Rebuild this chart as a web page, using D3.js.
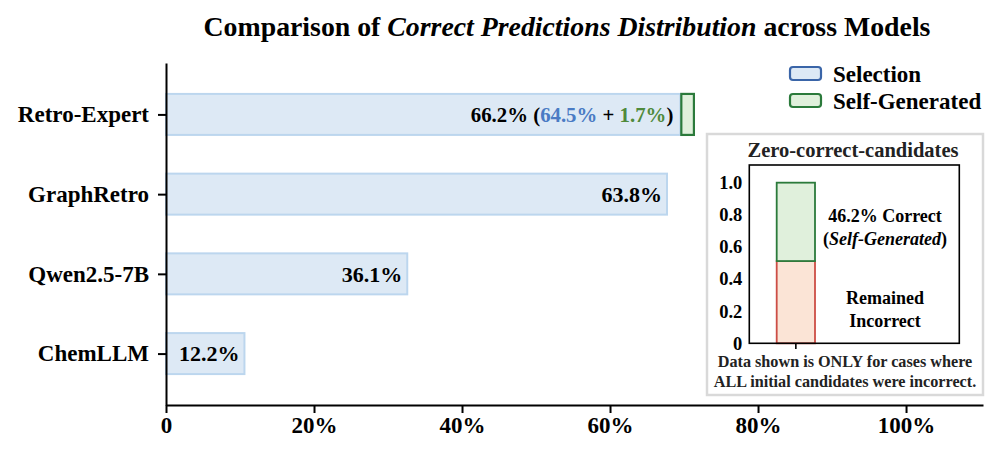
<!DOCTYPE html>
<html><head><meta charset="utf-8">
<script src="https://cdn.jsdelivr.net/npm/d3@7"></script>
<style>
html,body{margin:0;padding:0;background:#fff;}
svg{display:block;font-family:"Liberation Serif","Times New Roman",serif;font-weight:bold;}
</style></head>
<body>
<svg id="chart" width="997" height="456"></svg>
<script>
// ---- data ----
const models = ["Retro-Expert", "GraphRetro", "Qwen2.5-7B", "ChemLLM"];
const selectionValues = [69.5, 67.7, 32.6, 10.6];      // bar lengths as drawn (%)
const selfGenValues = [1.7, 0, 0, 0];                 // self-generated extension (%)
const barLabels = ["66.2%", "63.8%", "36.1%", "12.2%"];
const retroBreakdown = ["64.5%", "1.7%"];
const xTicks = [0, 20, 40, 60, 80, 100];
const xTickLabels = ["0", "20%", "40%", "60%", "80%", "100%"];
const insetSegments = ["Remained Incorrect", "Correct (Self-Generated)"];
const insetValues = [0.512, 0.488];
const insetTicks = [0, 0.2, 0.4, 0.6, 0.8, 1.0];
const insetTickLabels = ["0", "0.2", "0.4", "0.6", "0.8", "1.0"];

const svg = d3.select("#chart");
const FONT = "Liberation Serif, Times New Roman, serif";
const C = {
  selFill: "#dde9f5", selStroke: "#bcd6ee", selLegendStroke: "#3a65a8",
  genFill: "#e0f0dc", genStroke: "#2b7a3b",
  incFill: "#fbe4d6", incStroke: "#cc4d45",
  blue: "#4a7bc4", green: "#4f8a3c"
};

// title
const title = svg.append("text").attr("x", 567).attr("y", 36).attr("text-anchor", "middle")
  .attr("font-size", 27.8).attr("fill", "#000");
title.append("tspan").text("Comparison of ");
title.append("tspan").attr("font-style", "italic").text("Correct Predictions Distribution");
title.append("tspan").text(" across Models");

// scales
const x = d3.scaleLinear().domain([0, 110.4]).range([166, 983]);
const y = d3.scalePoint().domain(models).range([63, 405]).padding(0.645);
const barH = 41;

// bars
svg.append("g").selectAll("rect").data(models).join("rect")
  .attr("x", x(0)).attr("y", d => y(d) - barH / 2)
  .attr("width", (d, i) => x(selectionValues[i]) - x(0)).attr("height", barH)
  .attr("fill", C.selFill).attr("stroke", C.selStroke).attr("stroke-width", 2);

svg.append("g").selectAll("rect").data(models.filter((d, i) => selfGenValues[i] > 0)).join("rect")
  .attr("x", d => x(selectionValues[models.indexOf(d)]) + 1)
  .attr("y", d => y(d) - barH / 2)
  .attr("width", d => x(selfGenValues[models.indexOf(d)]) - x(0))
  .attr("height", barH)
  .attr("fill", C.genFill).attr("stroke", C.genStroke).attr("stroke-width", 2.2);

// bar labels
models.forEach((m, i) => {
  const t = svg.append("text").attr("x", x(selectionValues[i]) - (i === 0 ? 7 : 5))
    .attr("y", y(m)).attr("dy", "0.35em").attr("text-anchor", "end")
    .attr("font-size", i === 0 ? 20.8 : 22).attr("fill", "#000");
  if (i === 0) {
    t.append("tspan").text(barLabels[0] + " (");
    t.append("tspan").attr("fill", C.blue).text(retroBreakdown[0]);
    t.append("tspan").text(" + ");
    t.append("tspan").attr("fill", C.green).text(retroBreakdown[1]);
    t.append("tspan").text(")");
  } else {
    t.text(barLabels[i]);
  }
});

// axes
const xAxis = svg.append("g").attr("transform", "translate(0,405)")
  .call(d3.axisBottom(x).tickValues(xTicks).tickFormat((d, i) => xTickLabels[i]).tickSize(8).tickSizeOuter(0).tickPadding(4));
const yAxis = svg.append("g").attr("transform", "translate(166,0)")
  .call(d3.axisLeft(y).tickSize(8).tickSizeOuter(0).tickPadding(9));
[xAxis, yAxis].forEach(g => {
  g.select(".domain").attr("stroke", "#000").attr("stroke-width", 2);
  g.selectAll(".tick line").attr("stroke", "#000").attr("stroke-width", 2);
  g.selectAll(".tick text").attr("fill", "#000").attr("font-size", 23)
    .attr("font-family", FONT).attr("font-weight", "bold");
});

// legend
const legendItems = [
  { label: "Selection", fill: C.selFill, stroke: C.selLegendStroke },
  { label: "Self-Generated", fill: C.genFill, stroke: C.genStroke }
];
const lg = svg.append("g");
legendItems.forEach((d, i) => {
  const yy = 67 + i * 27;
  lg.append("rect").attr("x", 790).attr("y", yy).attr("width", 31).attr("height", 13).attr("rx", 3)
    .attr("fill", d.fill).attr("stroke", d.stroke).attr("stroke-width", 2.2);
  lg.append("text").attr("x", 833).attr("y", yy + 7).attr("dy", "0.35em")
    .attr("font-size", 23).attr("fill", "#000").text(d.label);
});

// inset
const inset = svg.append("g");
inset.append("rect").attr("x", 707).attr("y", 134).attr("width", 276).attr("height", 261)
  .attr("fill", "#fff").attr("stroke", "#d9d9d9").attr("stroke-width", 2.5);
inset.append("text").attr("x", 853).attr("y", 157).attr("text-anchor", "middle")
  .attr("font-size", 20.5).attr("fill", "#222").text("Zero-correct-candidates");

const iy = d3.scaleLinear().domain([0, 1.11]).range([343.3, 165]);
const bx0 = 776.7, bw = 38.3;
let cum = 0;
const segColors = [[C.incFill, C.incStroke], [C.genFill, C.genStroke]];
insetValues.forEach((v, i) => {
  inset.append("rect").attr("x", bx0).attr("width", bw)
    .attr("y", iy(cum + v)).attr("height", iy(cum) - iy(cum + v))
    .attr("fill", segColors[i][0]).attr("stroke", segColors[i][1]).attr("stroke-width", 1.8);
  cum += v;
});
// frame
inset.append("rect").attr("x", 749.3).attr("y", 165).attr("width", 210).attr("height", 178.3)
  .attr("fill", "none").attr("stroke", "#000").attr("stroke-width", 1.6);
const iyAxis = inset.append("g").attr("transform", "translate(749.3,0)")
  .call(d3.axisLeft(iy).tickValues(insetTicks).tickFormat((d, i) => insetTickLabels[i]).tickSize(0).tickPadding(7));
iyAxis.select(".domain").remove();
iyAxis.selectAll(".tick text").attr("font-size", 18.5).attr("fill", "#000")
  .attr("font-family", FONT).attr("font-weight", "bold");
inset.append("line").attr("x1", bx0 + bw / 2).attr("x2", bx0 + bw / 2).attr("y1", 343.3).attr("y2", 349)
  .attr("stroke", "#000").attr("stroke-width", 1.6);

const annot = [
  { y: 222, parts: [["46.2% Correct", "normal"]] },
  { y: 245, parts: [["(", "normal"], ["Self-Generated", "italic"], [")", "normal"]] },
  { y: 304, parts: [["Remained", "normal"]] },
  { y: 327, parts: [["Incorrect", "normal"]] }
];
annot.forEach(a => {
  const t = inset.append("text").attr("x", 885).attr("y", a.y).attr("text-anchor", "middle")
    .attr("font-size", 18).attr("fill", "#000");
  a.parts.forEach(p => t.append("tspan").attr("font-style", p[1]).text(p[0]));
});
["Data shown is ONLY for cases where", "ALL initial candidates were incorrect."].forEach((s, i) => {
  inset.append("text").attr("x", 845).attr("y", 367 + i * 20).attr("text-anchor", "middle")
    .attr("font-size", 16.2).attr("fill", "#222").text(s);
});
</script>
</body></html>
